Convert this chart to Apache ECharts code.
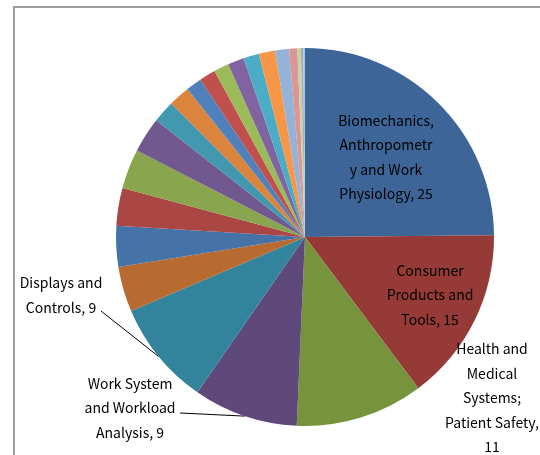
<!DOCTYPE html>
<html>
<head>
<meta charset="utf-8">
<script src="https://cdn.jsdelivr.net/npm/echarts@6/dist/echarts.min.js"></script>
<style>
  html, body { margin: 0; padding: 0; background: #fff; }
  #chart { width: 540px; height: 455px; }
</style>
</head>
<body>
<div id="chart"></div>
<script>
// Research topics, clockwise from 12 o'clock
const categories = [
  'Biomechanics,\nAnthropometr\ny and Work\nPhysiology',
  'Consumer\nProducts and\nTools',
  'Health and\nMedical\nSystems;\nPatient Safety',
  'Work System\nand Workload\nAnalysis',
  'Displays and\nControls',
  'Topic 6', 'Topic 7', 'Topic 8', 'Topic 9', 'Topic 10', 'Topic 11',
  'Topic 12', 'Topic 13', 'Topic 14', 'Topic 15', 'Topic 16', 'Topic 17',
  'Topic 18', 'Topic 19', 'Topic 20', 'Topic 21', 'Topic 22', 'Topic 23'
];
const values = [
  25, 15, 11, 9, 9,
  3.9, 3.5, 3.25, 3.4, 3.05, 1.9,
  1.85, 1.35, 1.4, 1.3, 1.4, 1.35,
  1.4, 1.2, 0.7, 0.3, 0.2, 0.15
];
const sliceColors = [
  '#3d6598', '#953a37', '#77933c', '#5f497a', '#31849b',
  '#b86b30', '#4572a7', '#aa4643', '#89a54e', '#71588f', '#4198af',
  '#db843d', '#4f81bd', '#c0504d', '#9bbb59', '#8064a2', '#4bacc6',
  '#f79646', '#95b3d7', '#d99694', '#c3d69b', '#b3a2c7', '#93cddd'
];
// Indices of the slices that carry a label, and where each label goes
const labelled = [0, 1, 2, 3, 4];
const labelPos = {
  0: { mode: 'inside',  x: 386, y: 157, line: false, sep: ', ' },
  1: { mode: 'inside',  x: 430, y: 295, line: false, sep: ', ' },
  2: { mode: 'outside', x: 492, y: 398, line: false, sep: ',\n' },
  3: { mode: 'outside', x: 130, y: 408, line: true, sep: ', ', endDx: 50, endDy: 5 },
  4: { mode: 'outside', x: 61,  y: 295, line: true, sep: ', ', endDx: 40, endDy: 16 }
};

const data = values.map((v, i) => {
  const item = { name: categories[i], value: v, itemStyle: { color: sliceColors[i] } };
  if (labelled.includes(i)) {
    const p = labelPos[i];
    item.label = { show: true, position: p.mode };
    item.labelLine = { show: p.line, length: 20, length2: 0, lineStyle: { color: '#000', width: 1 } };
  } else {
    item.label = { show: false };
    item.labelLine = { show: false };
  }
  return item;
});

const chart = echarts.init(document.getElementById('chart'), null, { renderer: 'canvas' });
chart.setOption({
  animation: false,
  backgroundColor: '#ffffff',
  graphic: [{
    type: 'rect',
    shape: { x: 14, y: 7, width: 620, height: 600 },
    style: { fill: 'none', stroke: '#9c9c9c', lineWidth: 2 },
    silent: true
  }],
  series: [{
    type: 'pie',
    center: [305, 237],
    radius: 189,
    startAngle: 90,
    clockwise: true,
    avoidLabelOverlap: false,
    itemStyle: { borderWidth: 0 },
    label: {
      formatter: p => {
        const cfg = labelPos[p.dataIndex];
        return cfg ? p.name + cfg.sep + p.value : '';
      },
      fontFamily: 'Noto Sans CJK KR',
      fontSize: 14,
      lineHeight: 24.5,
      color: '#000',
      align: 'center'
    },
    labelLayout: function (params) {
      const p = labelPos[params.dataIndex];
      if (!p) return {};
      const out = { x: p.x, y: p.y, align: 'center', verticalAlign: 'middle' };
      if (p.line && params.labelLinePoints) {
        const start = params.labelLinePoints[0];
        const end = [p.x + p.endDx, p.y + p.endDy];
        out.labelLinePoints = [start, end, end];
      }
      return out;
    },
    data: data
  }]
});
</script>
</body>
</html>
